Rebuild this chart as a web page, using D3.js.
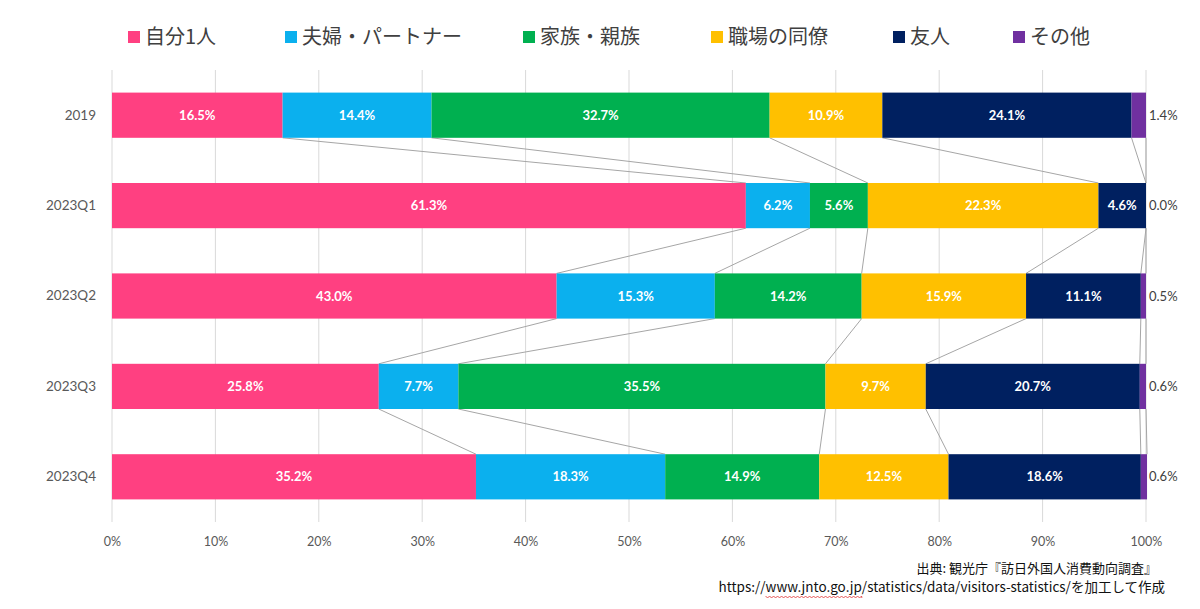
<!DOCTYPE html>
<html><head><meta charset="utf-8">
<script src="https://cdn.jsdelivr.net/npm/d3@7"></script>
<style>
html,body{margin:0;padding:0;background:#fff;}
svg{display:block;}
</style></head>
<body>
<svg id="chart" width="1200" height="609"></svg>
<script>
const categories = ["2019","2023Q1","2023Q2","2023Q3","2023Q4"];
const seriesNames = ["自分1人","夫婦・パートナー","家族・親族","職場の同僚","友人","その他"];
const seriesColors = ["#FF4081","#0BB0EE","#00B050","#FFC000","#002060","#7030A0"];
const alone   = [16.5, 61.3, 43.0, 25.8, 35.2];
const couple  = [14.4,  6.2, 15.3,  7.7, 18.3];
const family  = [32.7,  5.6, 14.2, 35.5, 14.9];
const coworker= [10.9, 22.3, 15.9,  9.7, 12.5];
const friends = [24.1,  4.6, 11.1, 20.7, 18.6];
const other   = [ 1.4,  0.0,  0.5,  0.6,  0.6];
const tickValues = [0,10,20,30,40,50,60,70,80,90,100];
const sourceLine1 = "出典: 観光庁『訪日外国人消費動向調査』";
const sourceLine2 = "https://www.jnto.go.jp/statistics/data/visitors-statistics/を加工して作成";

const seriesValues = [alone, couple, family, coworker, friends, other];
const rows = categories.map((c,i)=>{const r={cat:c}; seriesNames.forEach((s,j)=>r[s]=seriesValues[j][i]); return r;});
const stack = d3.stack().keys(seriesNames)(rows);

const svg = d3.select("#chart");
const numFont = "Lato, 'Open Sans', sans-serif";
const jpFont = "'Noto Sans CJK JP', 'Noto Sans', sans-serif";

const x = d3.scaleLinear().domain([0,100]).range([112,1146]);
const y = d3.scaleBand().domain(categories).range([70,522]).paddingInner(0.5).paddingOuter(0.25);

// gridlines
svg.append("g").selectAll("line").data(tickValues).join("line")
  .attr("x1",d=>x(d)).attr("x2",d=>x(d)).attr("y1",70).attr("y2",522)
  .attr("stroke","#d9d9d9").attr("stroke-width",1);

// x tick labels
const xAxis = svg.append("g").attr("transform","translate(0,522)")
  .call(d3.axisBottom(x).tickValues(tickValues).tickFormat(d=>d+"%").tickSize(0).tickPadding(15));
xAxis.select(".domain").remove();
xAxis.selectAll("text").attr("fill","#595959").attr("font-size",12.5).attr("font-family",numFont);

// y labels
const yAxis = svg.append("g").attr("transform","translate(96,0)")
  .call(d3.axisLeft(y).tickSize(0).tickPadding(0));
yAxis.select(".domain").remove();
yAxis.selectAll("text").attr("fill","#595959").attr("font-size",13.5).attr("font-family",numFont);

// series lines
const lineG = svg.append("g");
stack.forEach(layer=>{
  for(let i=0;i<categories.length-1;i++){
    lineG.append("line")
      .attr("x1",x(layer[i][1])).attr("y1",y(categories[i])+y.bandwidth())
      .attr("x2",x(layer[i+1][1])).attr("y2",y(categories[i+1]))
      .attr("stroke","#a6a6a6").attr("stroke-width",1);
  }
});

// bars
const barG = svg.append("g");
stack.forEach((layer,j)=>{
  barG.append("g").attr("fill",seriesColors[j]).selectAll("rect").data(layer).join("rect")
    .attr("x",d=>x(d[0])).attr("width",d=>x(d[1])-x(d[0]))
    .attr("y",d=>y(d.data.cat)).attr("height",y.bandwidth());
});

// labels
stack.forEach((layer,j)=>{
  const last = j===seriesNames.length-1;
  svg.append("g").selectAll("text").data(layer).join("text")
    .attr("x",d=> last ? x(100)+3 : (x(d[0])+x(d[1]))/2)
    .attr("y",d=>y(d.data.cat)+y.bandwidth()/2)
    .attr("dy","0.35em")
    .attr("text-anchor", last ? "start" : "middle")
    .attr("fill", last ? "#404040" : "#ffffff")
    .attr("font-weight", last ? "normal" : "bold")
    .attr("font-size",13).attr("font-family",numFont)
    .text(d=>(d[1]-d[0]).toFixed(1)+"%");
});

// legend
const legendX = [128,285,523,711,893,1013];
const lg = svg.append("g");
seriesNames.forEach((s,j)=>{
  lg.append("rect").attr("x",legendX[j]).attr("y",31).attr("width",12).attr("height",12).attr("fill",seriesColors[j]);
  lg.append("text").attr("x",legendX[j]+17).attr("y",37).attr("dy","0.36em")
    .attr("font-size",20).attr("font-family",jpFont).attr("fill","#404040").text(s);
});

// source
svg.append("text").attr("x",1157).attr("y",573).attr("text-anchor","end")
  .attr("font-size",13).attr("font-family",jpFont).attr("fill","#111").text(sourceLine1);
const src2 = svg.append("text").attr("x",1165).attr("y",592).attr("text-anchor","end")
  .attr("font-size",13.5).attr("font-family",jpFont).attr("fill","#111").text(sourceLine2);

// spell-check style wavy underline under the domain part
try {
  const node = src2.node();
  const full = node.getComputedTextLength();
  const start = 1165 - full;
  const i0 = sourceLine2.indexOf("www");
  const i1 = sourceLine2.indexOf(".jp") + 3;
  const sx = start + node.getSubStringLength(0, i0);
  const ex = start + node.getSubStringLength(0, i1);
  let p = `M${sx},596`;
  for (let xx = sx, k = 0; xx < ex; xx += 2, k++) p += ` L${Math.min(xx+2,ex)},${k%2===0?598:596}`;
  svg.append("path").attr("d",p).attr("fill","none").attr("stroke","#e03030").attr("stroke-width",0.8);
} catch(e) {}
</script>
</body></html>
